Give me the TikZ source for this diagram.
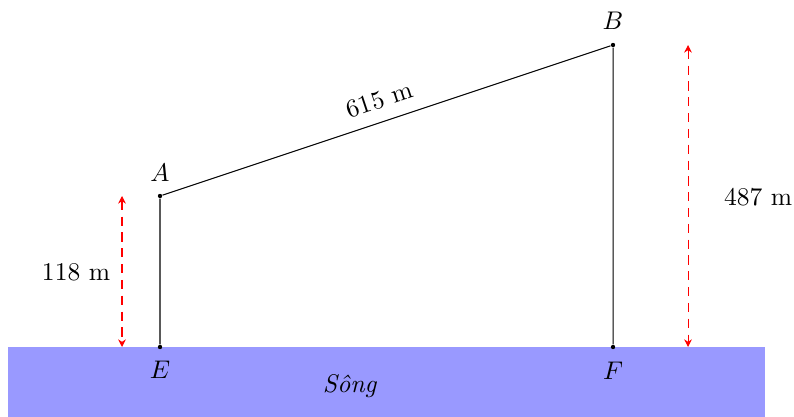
\documentclass[tikz,border=0pt]{standalone}
\usetikzlibrary{arrows.meta}
\begin{document}
\begin{tikzpicture}[x=0.392pt,y=-0.392pt,
  pt/.style={circle,fill=black,inner sep=0pt,minimum size=1.7pt},
  lbl/.style={inner sep=0pt},
  meas/.style={red,dash pattern=on 3.6pt off 2.6pt,{Stealth[length=3pt,width=3pt]}-{Stealth[length=3pt,width=3pt]}}]
\useasboundingbox (0,0) rectangle (794,417);
\fill[blue!40] (8,347) rectangle (765,417);
\node[pt] (A) at (160,196) {};
\node[pt] (B) at (613,45) {};
\node[pt] (E) at (160,347) {};
\node[pt] (F) at (613,347) {};
\node[lbl] (lA) at (160,173) {$A$};
\node[lbl] (lB) at (613,21) {$B$};
\node[lbl] (lE) at (160,370) {$E$};
\node[lbl] (lF) at (613,371) {$F$};
\draw (E) -- (A) -- node[lbl,above=5pt,sloped] {615 m} (B) -- (F);
\coordinate (a1) at (122,196);
\coordinate (a2) at (122,347);
\coordinate (b1) at (688,45);
\coordinate (b2) at (688,347);
\draw[meas] (a1) -- (a2);
\draw[meas] (b1) -- (b2);
\node[lbl] (h1) at (76,272) {118 m};
\node[lbl] (h2) at (758,197) {487 m};
\node[lbl] (song) at (350,386) {\textit{Sông}};
\end{tikzpicture}
\end{document}
